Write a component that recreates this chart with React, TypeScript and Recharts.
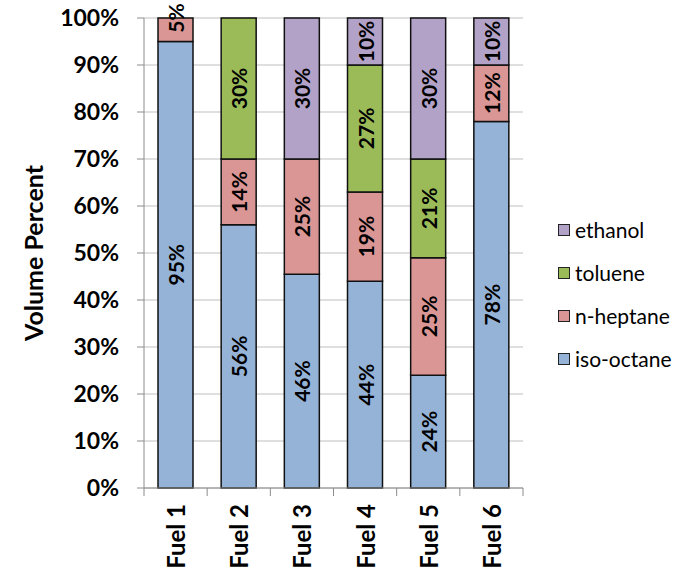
import React from "react";
import { BarChart, Bar, XAxis, YAxis, CartesianGrid, Legend, LabelList } from "recharts";

const fuels = ["Fuel 1", "Fuel 2", "Fuel 3", "Fuel 4", "Fuel 5", "Fuel 6"];
const isoOctane = [95, 56, 45.5, 44, 24, 78];
const nHeptane = [5, 14, 24.5, 19, 25, 12];
const toluene = [0, 30, 0, 27, 21, 0];
const ethanol = [0, 0, 30, 10, 30, 10];
const yTicks = [0, 10, 20, 30, 40, 50, 60, 70, 80, 90, 100];

const SERIES = [
  { key: "iso-octane", color: "#95B3D7" },
  { key: "n-heptane", color: "#D99694" },
  { key: "toluene", color: "#9BBB59" },
  { key: "ethanol", color: "#B3A2C7" },
];

const data = fuels.map((name, i) => ({
  name,
  "iso-octane": isoOctane[i],
  "n-heptane": nHeptane[i],
  toluene: toluene[i],
  ethanol: ethanol[i],
}));

const W = 681;
const H = 581;
const MARGIN = { top: 18, right: 158, bottom: 0, left: 0 };
const Y_AXIS_W = 144;
const BAND = (W - MARGIN.right - MARGIN.left - Y_AXIS_W) / fuels.length;
const FONT = "Lato, 'Liberation Sans', sans-serif";
const AXIS_COLOR = "#8C8C8C";

function FuelTick(props: any) {
  const { x, y, payload, index } = props;
  const last = index === fuels.length - 1;
  return (
    <g>
      <line x1={x - BAND / 2} x2={x - BAND / 2} y1={y} y2={y + 8} stroke={AXIS_COLOR} />
      {last && <line x1={x + BAND / 2} x2={x + BAND / 2} y1={y} y2={y + 8} stroke={AXIS_COLOR} />}
      <text
        transform={`translate(${x},${y + 16}) rotate(-90)`}
        textAnchor="end"
        dominantBaseline="central"
        fontFamily={FONT}
        fontWeight={700}
        fontSize={24}
        fill="#000"
      >
        {payload.value}
      </text>
    </g>
  );
}

function SegmentLabel(props: any) {
  const { x, y, width, height, value } = props;
  if (!value) return null;
  const cx = x + width / 2;
  // small segments: Excel pushes the label up to the bar top
  const cy = height < 34 ? y : y + height / 2;
  return (
    <text
      transform={`translate(${cx},${cy}) rotate(-90)`}
      textAnchor="middle"
      dominantBaseline="central"
      fontFamily={FONT}
      fontWeight={700}
      fontSize={21}
      fill="#000"
    >
      {Math.round(value)}%
    </text>
  );
}

function YLabel(props: any) {
  const { viewBox } = props;
  const cy = viewBox.y + viewBox.height / 2;
  return (
    <text
      transform={`translate(33,${cy}) rotate(-90)`}
      textAnchor="middle"
      dominantBaseline="central"
      fontFamily={FONT}
      fontWeight={700}
      fontSize={25}
      fill="#000"
    >
      Volume Percent
    </text>
  );
}

const legendOrder = ["ethanol", "toluene", "n-heptane", "iso-octane"];

function LegendBox(props: any) {
  const payload = props.payload || [];
  const items = legendOrder
    .map((k) => payload.find((p: any) => p.value === k || p.dataKey === k))
    .filter(Boolean);
  return (
    <div style={{ fontFamily: FONT, fontSize: 21, color: "#000" }}>
      {items.map((it: any) => (
        <div key={it.value} style={{ display: "flex", alignItems: "center", height: 43 }}>
          <span
            style={{
              width: 10,
              height: 10,
              background: it.color,
              border: "1.5px solid #222",
              marginRight: 5,
              display: "inline-block",
            }}
          />
          <span>{it.value}</span>
        </div>
      ))}
    </div>
  );
}

export default function App() {
  return (
    <div style={{ position: "absolute", left: 0, top: 0, width: W, height: H, background: "#fff" }}>
      <BarChart width={W} height={H} data={data} margin={MARGIN} barSize={35}>
        <CartesianGrid vertical={false} stroke="#BFBFBF" />
        <XAxis
          dataKey="name"
          height={93}
          tickLine={false}
          tickSize={0}
          tickMargin={0}
          stroke={AXIS_COLOR}
          tick={<FuelTick />}
          interval={0}
        />
        <YAxis
          width={Y_AXIS_W}
          domain={[0, 100]}
          ticks={yTicks}
          tickFormatter={(v: number) => `${v}%`}
          tickSize={7}
          tickMargin={18}
          stroke={AXIS_COLOR}
          tick={{ fontFamily: FONT, fontWeight: 700, fontSize: 23, fill: "#000" }}
          label={<YLabel />}
        />
        <Legend
          layout="vertical"
          align="center"
          verticalAlign="middle"
          wrapperStyle={{ left: 558, top: 208, width: 123 }}
          content={<LegendBox />}
        />
        {SERIES.map((s) => (
          <Bar
            key={s.key}
            dataKey={s.key}
            stackId="fuel"
            fill={s.color}
            stroke="#111"
            strokeWidth={1.5}
            isAnimationActive={false}
          >
            <LabelList dataKey={s.key} content={<SegmentLabel />} />
          </Bar>
        ))}
      </BarChart>
    </div>
  );
}
